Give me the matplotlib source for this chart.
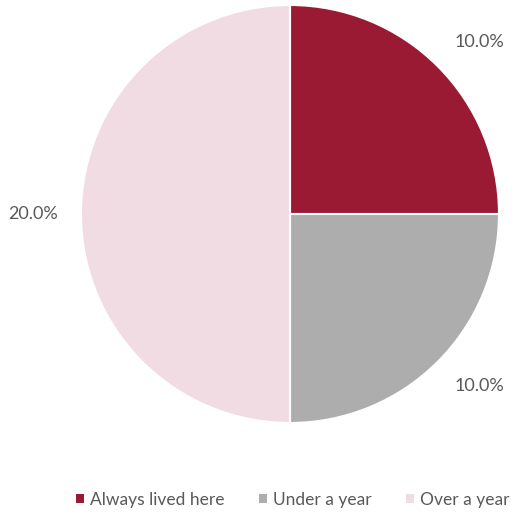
import numpy as np
import matplotlib
matplotlib.use("Agg")
import matplotlib.pyplot as plt
from matplotlib.patches import Patch

# datos del gráfico
categorias = ["Always lived here", "Under a year", "Over a year"]
valores = [10.0, 10.0, 20.0]
colores = ["#9A1A33", "#ADADAD", "#F2DCE3"]

plt.rcParams['font.family'] = ['Lato', 'DejaVu Sans']
gris_texto = "#595959"

fig = plt.figure(figsize=(5.14, 5.14), dpi=100)
cx, cy, r = 290 / 514, 1 - 214 / 514, 209 / 514
ax = fig.add_axes([cx - r, cy - r, 2 * r, 2 * r])

wedges, _ = ax.pie(valores, colors=colores, startangle=90, counterclock=False,
                   radius=1, wedgeprops=dict(edgecolor="white", linewidth=1.5))
ax.set_xlim(-1, 1)
ax.set_ylim(-1, 1)
ax.set_aspect("equal")
ax.axis("off")

# etiquetas fuera de cada porción, ancladas por la esquina más cercana al círculo
for w, v in zip(wedges, valores):
    ang = np.deg2rad((w.theta1 + w.theta2) / 2)
    c, s = np.cos(ang), np.sin(ang)
    d = 1.11
    ha = "left" if c > 0.1 else ("right" if c < -0.1 else "center")
    va = "bottom" if s > 0.1 else ("top" if s < -0.1 else "center")
    ax.text(d * c, d * s, f"{v:.1f}%", ha=ha, va=va,
            fontsize=13, color=gris_texto, clip_on=False)

handles = [Patch(facecolor=c, edgecolor="none") for c in colores]
fig.legend(handles, categorias, loc="center", bbox_to_anchor=(293 / 514, 1 - 500 / 514),
           ncol=3, frameon=False, fontsize=12.5, labelcolor=gris_texto,
           handlelength=0.45, handleheight=0.45, handletextpad=0.35, columnspacing=2.0,
           borderpad=0)

fig.savefig("out.png", dpi=100)
